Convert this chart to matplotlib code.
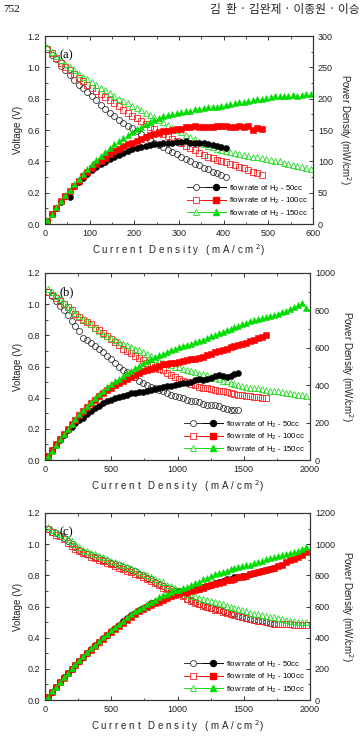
import matplotlib
matplotlib.use("Agg")
import matplotlib.pyplot as plt
from matplotlib.lines import Line2D
from matplotlib.legend_handler import HandlerTuple
from matplotlib.ticker import MultipleLocator

plt.rcParams['font.family'] = ['Liberation Sans', 'DejaVu Sans']

# ---- panel (a): current grid (mA/cm2) ----
cur_a = [5, 15, 25, 35, 45, 55, 65, 75, 85, 95,
         105, 115, 125, 135, 145, 155, 165, 175, 185, 195,
         205, 215, 225, 235, 245, 255, 265, 275, 285, 295,
         305, 315, 325, 335, 345, 355, 365, 375, 385, 395,
         405, 415, 425, 435, 445, 455, 465, 475, 485, 495,
         505, 515, 525, 535, 545, 555, 565, 575, 585, 595]

v50_a = [1.12, 1.08, 1.05, 1.01, 0.98, 0.95, 0.92, 0.89, 0.87, 0.84,
         0.815, 0.79, 0.76, 0.735, 0.71, 0.69, 0.665, 0.645, 0.625, 0.61,
         0.595, 0.575, 0.555, 0.535, 0.52, 0.505, 0.49, 0.475, 0.46, 0.445,
         0.43, 0.415, 0.40, 0.385, 0.375, 0.36, 0.35, 0.335, 0.325, 0.31,
         0.30]
p50_a = [5, 16, 26, 35, 44, 43, 60, 67, 74, 80,
         86, 91, 95, 99, 103, 107, 110, 113, 116, 119,
         122, 123, 124, 126, 127, 128, 129, 130, 130, 131,
         131, 132, 130, 129, 130, 129, 128, 126, 125, 123,
         121]
v100_a = [1.12, 1.09, 1.06, 1.03, 1.00, 0.98, 0.955, 0.93, 0.91, 0.89,
          0.87, 0.85, 0.83, 0.81, 0.79, 0.77, 0.75, 0.73, 0.71, 0.69,
          0.675, 0.655, 0.64, 0.62, 0.605, 0.59, 0.575, 0.56, 0.545, 0.53,
          0.515, 0.50, 0.485, 0.47, 0.455, 0.44, 0.43, 0.42, 0.41, 0.405,
          0.395, 0.385, 0.375, 0.365, 0.355, 0.345, 0.335, 0.325, 0.315]
p100_a = [5, 16, 26, 36, 45, 53, 61, 69, 76, 83,
          89, 95, 101, 106, 111, 116, 120, 124, 127, 130,
          133, 136, 139, 142, 144, 146, 148, 149, 150, 151,
          152, 154, 155, 156, 155, 155, 154, 155, 156, 157,
          156, 155, 155, 156, 155, 156, 150, 153, 151]
v150_a = [1.13, 1.10, 1.07, 1.045, 1.02, 1.00, 0.98, 0.96, 0.94, 0.925,
          0.905, 0.89, 0.87, 0.855, 0.835, 0.82, 0.80, 0.785, 0.77, 0.755,
          0.74, 0.725, 0.71, 0.695, 0.68, 0.665, 0.65, 0.635, 0.615, 0.60,
          0.585, 0.57, 0.555, 0.54, 0.525, 0.51, 0.50, 0.49, 0.48, 0.47,
          0.465, 0.46, 0.455, 0.45, 0.44, 0.435, 0.43, 0.425, 0.42, 0.415,
          0.41, 0.405, 0.40, 0.39, 0.385, 0.375, 0.37, 0.365, 0.36, 0.35]
p150_a = [6, 16, 27, 37, 46, 55, 64, 72, 80, 88,
          95, 102, 109, 115, 121, 127, 132, 137, 142, 147,
          151, 155, 159, 163, 166, 169, 172, 174, 176, 177,
          178, 180, 181, 183, 184, 185, 186, 187, 187, 188,
          190, 191, 193, 194, 195, 196, 198, 199, 200, 201,
          202, 204, 205, 204, 205, 206, 205, 206, 208, 208]

# ---- panels (b) and (c): shared current grid ----
cur_bc = [20, 50, 80, 110, 140, 170, 200, 230, 260, 290,
          320, 350, 380, 410, 440, 470, 500, 530, 560, 590,
          620, 650, 680, 710, 740, 770, 800, 830, 860, 890,
          920, 950, 980, 1010, 1040, 1070, 1100, 1130, 1160, 1190,
          1220, 1250, 1280, 1310, 1340, 1370, 1400, 1430, 1460, 1490,
          1520, 1550, 1580, 1610, 1640, 1670, 1700, 1730, 1760, 1790,
          1820, 1850, 1880, 1910, 1940, 1970]

v50_b = [1.08, 1.05, 1.02, 0.99, 0.96, 0.93, 0.89, 0.86, 0.83, 0.78,
         0.77, 0.75, 0.73, 0.71, 0.69, 0.67, 0.645, 0.62, 0.60, 0.58,
         0.565, 0.55, 0.53, 0.51, 0.495, 0.48, 0.47, 0.46, 0.45, 0.44,
         0.43, 0.415, 0.41, 0.405, 0.395, 0.385, 0.38, 0.38, 0.375, 0.36,
         0.355, 0.35, 0.35, 0.345, 0.335, 0.325, 0.32, 0.32, 0.32]
p50_b = [21, 52, 82, 109, 134, 158, 178, 198, 216, 226,
         246, 262, 277, 291, 304, 315, 322, 329, 336, 342,
         350, 357, 360, 362, 366, 370, 376, 382, 387, 392,
         396, 394, 402, 409, 411, 412, 418, 429, 435, 428,
         433, 437, 448, 452, 449, 445, 448, 458, 467]
v100_b = [1.08, 1.06, 1.04, 1.02, 1.00, 0.98, 0.96, 0.94, 0.92, 0.90,
          0.885, 0.87, 0.85, 0.835, 0.815, 0.795, 0.775, 0.755, 0.735, 0.715,
          0.70, 0.685, 0.67, 0.655, 0.64, 0.625, 0.61, 0.595, 0.585, 0.575,
          0.56, 0.545, 0.53, 0.52, 0.51, 0.50, 0.49, 0.48, 0.47, 0.465,
          0.46, 0.455, 0.45, 0.445, 0.44, 0.435, 0.43, 0.425, 0.42, 0.415,
          0.41, 0.41, 0.405, 0.405, 0.40, 0.40]
p100_b = [22, 53, 83, 112, 140, 167, 192, 216, 239, 261,
          283, 304, 323, 342, 358, 373, 387, 400, 411, 422,
          434, 445, 456, 465, 474, 481, 488, 494, 503, 512,
          515, 518, 519, 525, 530, 535, 539, 542, 545, 553,
          561, 569, 576, 583, 590, 596, 602, 608, 613, 618,
          623, 636, 640, 652, 656, 668]
v150_b = [1.10, 1.08, 1.055, 1.03, 1.005, 0.985, 0.965, 0.945, 0.925, 0.905,
          0.89, 0.87, 0.85, 0.83, 0.81, 0.795, 0.785, 0.77, 0.755, 0.745,
          0.735, 0.725, 0.715, 0.705, 0.695, 0.68, 0.665, 0.65, 0.635, 0.625,
          0.62, 0.61, 0.60, 0.595, 0.585, 0.58, 0.57, 0.565, 0.555, 0.55,
          0.545, 0.535, 0.525, 0.52, 0.51, 0.505, 0.495, 0.49, 0.48, 0.475,
          0.47, 0.465, 0.46, 0.46, 0.455, 0.45, 0.445, 0.44, 0.44, 0.435,
          0.43, 0.43, 0.425, 0.42, 0.415, 0.41]
p150_b = [20, 50, 80, 110, 140, 168, 195, 220, 245, 268,
          290, 312, 333, 352, 370, 388, 405, 420, 435, 450,
          465, 478, 492, 505, 517, 530, 540, 550, 560, 568,
          577, 586, 594, 602, 608, 616, 622, 630, 638, 644,
          652, 664, 668, 680, 684, 695, 700, 712, 716, 728,
          730, 742, 748, 752, 762, 764, 770, 778, 780, 790,
          798, 806, 816, 828, 842, 815]

v50_c = [1.10, 1.08, 1.07, 1.05, 1.04, 1.02, 1.00, 0.98, 0.96, 0.95,
         0.94, 0.93, 0.92, 0.91, 0.90, 0.89, 0.88, 0.87, 0.865, 0.855,
         0.845, 0.835, 0.825, 0.81, 0.80, 0.785, 0.775, 0.76, 0.745, 0.73,
         0.72, 0.71, 0.70, 0.69, 0.675, 0.645, 0.64, 0.63, 0.615, 0.61,
         0.60, 0.59, 0.585, 0.58, 0.57, 0.565, 0.555, 0.55, 0.54, 0.535,
         0.525, 0.52, 0.515, 0.51, 0.505, 0.50, 0.495, 0.49]
p50_c = [22, 54, 86, 116, 146, 173, 200, 225, 250, 276,
         301, 326, 350, 373, 396, 418, 440, 461, 484, 504,
         524, 543, 561, 575, 592, 604, 620, 631, 641, 650,
         662, 675, 686, 697, 702, 690, 704, 712, 713, 726,
         732, 738, 749, 760, 764, 774, 777, 787, 788, 797,
         798, 806, 814, 821, 828, 835, 842, 848]
v100_c = [1.10, 1.08, 1.06, 1.05, 1.03, 1.01, 0.99, 0.97, 0.955, 0.945,
          0.935, 0.92, 0.91, 0.90, 0.89, 0.88, 0.87, 0.86, 0.85, 0.84,
          0.83, 0.82, 0.81, 0.80, 0.79, 0.775, 0.765, 0.75, 0.735, 0.72,
          0.71, 0.70, 0.69, 0.68, 0.665, 0.65, 0.635, 0.625, 0.615, 0.605,
          0.60, 0.59, 0.58, 0.575, 0.565, 0.56, 0.55, 0.545, 0.54, 0.53,
          0.525, 0.52, 0.515, 0.51, 0.505, 0.50, 0.495, 0.49, 0.49, 0.485,
          0.485, 0.485, 0.48, 0.48, 0.48, 0.48]
p100_c = [22, 54, 85, 116, 144, 172, 198, 223, 248, 274,
          299, 322, 346, 369, 392, 414, 435, 456, 476, 496,
          515, 533, 551, 568, 585, 597, 612, 623, 632, 641,
          653, 665, 676, 687, 692, 696, 699, 706, 713, 720,
          732, 738, 742, 753, 757, 767, 770, 779, 788, 790,
          798, 806, 814, 821, 828, 835, 842, 848, 862, 868,
          883, 897, 902, 917, 931, 950]
v150_c = [1.11, 1.09, 1.08, 1.065, 1.05, 1.035, 1.02, 1.00, 0.985, 0.965,
          0.955, 0.945, 0.935, 0.925, 0.915, 0.905, 0.895, 0.885, 0.875, 0.865,
          0.855, 0.845, 0.835, 0.82, 0.81, 0.80, 0.79, 0.775, 0.765, 0.755,
          0.74, 0.73, 0.72, 0.70, 0.69, 0.68, 0.67, 0.665, 0.655, 0.65,
          0.64, 0.635, 0.63, 0.62, 0.615, 0.605, 0.60, 0.59, 0.585, 0.575,
          0.57, 0.56, 0.555, 0.55, 0.545, 0.54, 0.535, 0.53, 0.525, 0.52,
          0.515, 0.51, 0.505, 0.50, 0.50, 0.50]
p150_c = [22, 55, 86, 117, 147, 176, 204, 230, 256, 280,
          306, 331, 355, 379, 403, 425, 448, 469, 490, 510,
          530, 549, 568, 582, 599, 616, 632, 643, 658, 672,
          681, 694, 706, 707, 718, 728, 737, 751, 760, 774,
          781, 794, 806, 812, 824, 829, 840, 844, 854, 857,
          866, 868, 877, 886, 894, 902, 910, 917, 924, 931,
          937, 944, 949, 955, 970, 985]

flow_labels = ["flow rate of H$_2$ - 50cc", "flow rate of H$_2$ - 100cc",
               "flow rate of H$_2$ - 150cc"]

styles = [  # marker, open colour, filled colour
    ('o', '#333333', '#000000'),
    ('s', '#ff2020', '#ff0000'),
    ('^', '#22dd22', '#00dd00'),
]

fig = plt.figure(figsize=(3.63, 7.36), dpi=100)
W, H = 363.0, 736.0

fig.text(3 / W, 1 - 10 / H, "752", family=['Liberation Serif', 'DejaVu Serif'],
         fontsize=8, va='center', ha='left')
fig.text(210 / W, 1 - 10 / H, "김  환 · 김완제 · 이종원 · 이승",
         family=['Noto Sans CJK KR', 'DejaVu Sans'], fontsize=8.5,
         va='center', ha='left', color='#222222')


def panel(rect, tag, cur, volts, powers, xmax, xmaj, pmax, pmaj):
    ax = fig.add_axes(rect)
    ax2 = ax.twinx()
    for (mk, oc, fc), v, p in zip(styles, volts, powers):
        ax.plot(cur[:len(v)], v, linestyle='none', marker=mk, ms=4.3,
                mfc='none', mec=oc, mew=0.6)
        ax2.plot(cur[:len(p)], p, linestyle='none', marker=mk, ms=4.3,
                 mfc=fc, mec=fc, mew=0.4)
    ax.set_xlim(0, xmax)
    ax.set_ylim(0, 1.2)
    ax2.set_ylim(0, pmax)
    ax.xaxis.set_major_locator(MultipleLocator(xmaj))
    ax.xaxis.set_minor_locator(MultipleLocator(xmaj / 2))
    ax.yaxis.set_major_locator(MultipleLocator(0.2))
    ax.yaxis.set_minor_locator(MultipleLocator(0.1))
    ax2.yaxis.set_major_locator(MultipleLocator(pmaj))
    ax2.yaxis.set_minor_locator(MultipleLocator(pmaj / 2))
    ax.set_yticklabels(["%.1f" % t for t in ax.get_yticks()])
    for a in (ax, ax2):
        a.tick_params(which='both', direction='in', labelsize=6.5,
                      colors='#333333', labelcolor='#222222')
        a.tick_params(which='major', length=3, width=0.7)
        a.tick_params(which='minor', length=1.8, width=0.6)
        for s in a.spines.values():
            s.set_linewidth(0.8)
            s.set_color('#333333')
    ax.tick_params(which='both', top=True)
    ax.tick_params(axis='y', which='both', right=False)
    ax.set_xlabel("C u r r e n t   D e n s i t y   ( m A / c m $^2$)",
                  fontsize=7, labelpad=3, color='#222222')
    ax.set_ylabel("Voltage (V)", fontsize=7, labelpad=3, color='#222222')
    ax2.set_ylabel("Power Density (mW/cm$^2$)", fontsize=7, rotation=270,
                   labelpad=14, color='#222222')
    ax.text(0.055, 0.93, tag, transform=ax.transAxes, va='top', ha='left',
            fontsize=9, family=['Liberation Serif', 'DejaVu Serif'])

    handles = []
    for mk, oc, fc in styles:
        h_open = Line2D([], [], color=oc, lw=0.7, marker=mk, ms=4.3,
                        mfc='white', mec=oc, mew=0.6)
        h_fill = Line2D([], [], color=fc, lw=0.7, marker=mk, ms=4.3,
                        mfc=fc, mec=fc)
        handles.append((h_open, h_fill))
    ax2.legend(handles, flow_labels, loc='lower right', frameon=False,
               fontsize=5.6, handlelength=5.0, handletextpad=0.4,
               labelspacing=0.25, borderaxespad=0.3, numpoints=1,
               handler_map={tuple: HandlerTuple(ndivide=None, pad=0)})


panel([45 / W, 1 - 224 / H, 268 / W, 188 / H], "(a)", cur_a,
      [v50_a, v100_a, v150_a], [p50_a, p100_a, p150_a], 600, 100, 300, 50)
panel([45 / W, 1 - 460 / H, 265 / W, 187 / H], "(b)", cur_bc,
      [v50_b, v100_b, v150_b], [p50_b, p100_b, p150_b], 2000, 500, 1000, 200)
panel([45 / W, 1 - 700 / H, 265 / W, 187 / H], "(c)", cur_bc,
      [v50_c, v100_c, v150_c], [p50_c, p100_c, p150_c], 2000, 500, 1200, 200)

fig.savefig("out.png", dpi=100)
